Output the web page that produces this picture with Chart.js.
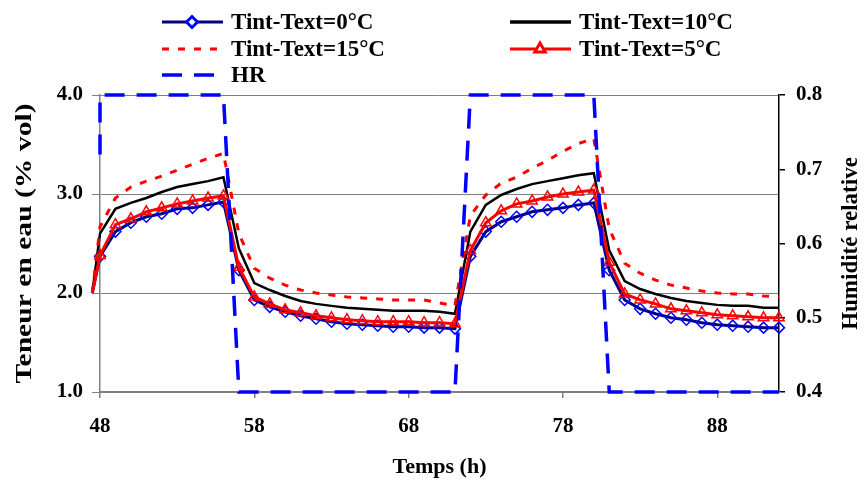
<!DOCTYPE html>
<html>
<head>
<meta charset="utf-8">
<script src="https://cdn.jsdelivr.net/npm/chart.js@4.4.1/dist/chart.umd.min.js"></script>
<style>
  html, body { margin: 0; padding: 0; background: #fff; }
</style>
</head>
<body>
<canvas id="myChart" width="864" height="482"></canvas>
<script>
// temps (h) - the first point sits just left of the 48 h axis
var temps = [47.5, 48, 49, 50, 51, 52, 53, 54, 55, 56, 57, 58, 59, 60, 61, 62, 63, 64, 65, 66, 67, 68, 69, 70,
             71, 72, 73, 74, 75, 76, 77, 78, 79, 80, 81, 82, 83, 84, 85, 86, 87, 88, 89, 90, 91, 92];

// teneur en eau (% vol) pour chaque ecart Tint-Text
var dt0  = [2.00, 2.37, 2.62, 2.71, 2.77, 2.80, 2.85, 2.86, 2.89, 2.92, 2.23, 1.93, 1.86, 1.81, 1.77, 1.74, 1.71, 1.69, 1.68, 1.67, 1.66, 1.66, 1.65, 1.65,
            1.64, 2.37, 2.62, 2.72, 2.77, 2.82, 2.84, 2.86, 2.89, 2.91, 2.23, 1.93, 1.84, 1.79, 1.75, 1.73, 1.70, 1.68, 1.67, 1.66, 1.65, 1.65];
var dt10 = [2.00, 2.60, 2.85, 2.91, 2.96, 3.02, 3.07, 3.10, 3.13, 3.17, 2.45, 2.10, 2.03, 1.97, 1.92, 1.89, 1.87, 1.85, 1.84, 1.83, 1.82, 1.82, 1.82, 1.81,
            1.79, 2.62, 2.89, 2.99, 3.05, 3.10, 3.13, 3.16, 3.19, 3.21, 2.43, 2.12, 2.04, 1.99, 1.95, 1.92, 1.90, 1.88, 1.87, 1.87, 1.85, 1.85];
var dt15 = [2.00, 2.67, 2.96, 3.07, 3.13, 3.18, 3.24, 3.30, 3.36, 3.41, 2.60, 2.25, 2.15, 2.08, 2.03, 2.00, 1.98, 1.96, 1.95, 1.94, 1.93, 1.93, 1.93, 1.90,
            1.87, 2.78, 2.99, 3.11, 3.17, 3.26, 3.34, 3.43, 3.51, 3.56, 2.65, 2.30, 2.20, 2.13, 2.08, 2.05, 2.02, 2.00, 1.99, 1.99, 1.97, 1.96];
var dt5  = [2.00, 2.38, 2.69, 2.75, 2.82, 2.86, 2.90, 2.93, 2.96, 2.98, 2.26, 1.96, 1.89, 1.83, 1.80, 1.77, 1.75, 1.73, 1.72, 1.71, 1.71, 1.71, 1.70, 1.70,
            1.69, 2.43, 2.71, 2.83, 2.90, 2.93, 2.97, 3.00, 3.02, 3.04, 2.31, 1.99, 1.93, 1.89, 1.84, 1.82, 1.80, 1.78, 1.77, 1.76, 1.75, 1.75];

// humidite relative (axe de droite)
var hrTemps = [48, 48, 56, 57, 71, 72, 80, 81, 92];
var hrValeurs = [0.72, 0.8, 0.8, 0.4, 0.4, 0.8, 0.8, 0.4, 0.4];

var xTicks = [48, 58, 68, 78, 88];
var yTicks = [1.0, 2.0, 3.0, 4.0];
var y1Ticks = [0.4, 0.5, 0.6, 0.7, 0.8];

function serie(tt, vals) {
  return tt.map(function(t, i) { return {x: t, y: vals[i]}; });
}
// no marker on the starting point left of the axis
function marqueur(r) {
  return function(c) { return c.dataIndex === 0 ? 0 : r; };
}

var police = '"Liberation Serif", "Times New Roman", serif';
Chart.defaults.font.family = police;
Chart.defaults.font.weight = 'bold';
Chart.defaults.color = '#000';

// legend on two columns like the original
var legendeGrille = {
  id: 'legendeGrille',
  afterDraw: function(chart) {
    var ctx = chart.ctx;
    var cases = [[162, 22], [510, 22], [162, 49], [510, 49], [162, 75]];
    chart.data.datasets.forEach(function(ds, i) {
      var x = cases[i][0], y = cases[i][1];
      ctx.save();
      ctx.strokeStyle = ds.borderColor;
      ctx.lineWidth = ds.legendWidth || ds.borderWidth;
      ctx.setLineDash(ds.borderDash || []);
      ctx.beginPath();
      ctx.moveTo(x, y);
      ctx.lineTo(x + 61, y);
      ctx.stroke();
      ctx.setLineDash([]);
      if (ds.legendRadius) {
        ctx.strokeStyle = ds.pointBorderColor;
        ctx.fillStyle = '#fff';
        Chart.helpers.drawPoint(ctx, {pointStyle: ds.pointStyle, radius: ds.legendRadius, borderWidth: ds.pointBorderWidth, rotation: 0}, x + 30, y);
      }
      ctx.fillStyle = '#000';
      ctx.font = 'bold 23px ' + police;
      ctx.textBaseline = 'middle';
      ctx.textAlign = 'left';
      ctx.fillText(ds.label, x + 69, y + 1);
      ctx.restore();
    });
  }
};

// both vertical axis titles, read from bottom to top
// the left one is stretched along its baseline like the original
function titreVertical(ctx, texte, x, y, longueur) {
  ctx.save();
  ctx.translate(x, y);
  ctx.rotate(-Math.PI / 2);
  ctx.font = 'bold 23px ' + police;
  if (longueur) {
    ctx.scale(longueur / ctx.measureText(texte).width, 1);
  }
  ctx.fillStyle = '#000';
  ctx.textAlign = 'center';
  ctx.textBaseline = 'middle';
  ctx.fillText(texte, 0, 0);
  ctx.restore();
}
var titresAxes = {
  id: 'titresAxes',
  afterDraw: function(chart) {
    var a = chart.chartArea, milieu = (a.top + a.bottom) / 2;
    titreVertical(chart.ctx, 'Teneur en eau (% vol)', 25, milieu, 280);
    titreVertical(chart.ctx, 'Humidité relative', 851, milieu, 0);
  }
};

var ctx = document.getElementById('myChart').getContext('2d');
var chart = new Chart(ctx, {
  type: 'line',
  data: {
    datasets: [{
      label: 'Tint-Text=0°C',
      data: serie(temps, dt0),
      borderColor: '#000080',
      borderWidth: 3,
      pointStyle: 'rectRot',
      pointRadius: marqueur(5.5),
      legendRadius: 5.5,
      pointBorderColor: '#0000FF',
      pointBackgroundColor: 'rgba(255,255,255,0)',
      pointBorderWidth: 1.5,
      yAxisID: 'y',
      order: 4
    }, {
      label: 'Tint-Text=10°C',
      data: serie(temps, dt10),
      borderColor: '#000000',
      borderWidth: 2.5,
      legendWidth: 3.5,
      pointRadius: 0,
      yAxisID: 'y',
      order: 3
    }, {
      label: 'Tint-Text=15°C',
      data: serie(temps, dt15),
      borderColor: '#FF0000',
      borderWidth: 3,
      borderDash: [7, 9],
      pointRadius: 0,
      yAxisID: 'y',
      order: 2
    }, {
      label: 'Tint-Text=5°C',
      data: serie(temps, dt5),
      borderColor: '#FF0000',
      borderWidth: 3,
      pointStyle: 'triangle',
      pointRadius: marqueur(6),
      legendRadius: 6,
      pointBorderColor: '#FF0000',
      pointBackgroundColor: 'rgba(255,255,255,0)',
      pointBorderWidth: 1.5,
      yAxisID: 'y',
      order: 1
    }, {
      label: 'HR',
      data: serie(hrTemps, hrValeurs),
      borderColor: '#0000FF',
      borderWidth: 3.5,
      borderDash: [20, 12],
      pointRadius: 0,
      yAxisID: 'y1',
      order: 0
    }]
  },
  options: {
    responsive: false,
    animation: false,
    events: [],
    layout: { padding: { top: 95, left: 0, right: 0, bottom: 0 } },
    datasets: { line: { tension: 0, clip: false } },
    plugins: {
      legend: { display: false },
      tooltip: { enabled: false }
    },
    scales: {
      x: {
        type: 'linear',
        min: 48,
        max: 92,
        afterBuildTicks: function(s) { s.ticks = xTicks.map(function(v) { return {value: v}; }); },
        afterFit: function(s) { s.height = 90; },
        grid: { drawOnChartArea: false, color: '#808080', tickLength: 6, lineWidth: 1.5 },
        border: { color: '#808080', width: 1.5 },
        ticks: { font: { size: 21, weight: 'bold' }, padding: 16, maxRotation: 0 },
        title: { display: true, text: 'Temps (h)', font: { size: 22, weight: 'bold' }, padding: { top: 0, bottom: 1 } }
      },
      y: {
        position: 'left',
        min: 1,
        max: 4,
        afterBuildTicks: function(s) { s.ticks = yTicks.map(function(v) { return {value: v}; }); },
        afterFit: function(s) { s.width = 100; },
        grid: { color: '#808080', tickLength: 8, lineWidth: 1 },
        border: { color: '#808080', width: 1.5 },
        ticks: { font: { size: 21, weight: 'bold' }, padding: 9, callback: function(v) { return v.toFixed(1); } }
      },
      y1: {
        position: 'right',
        min: 0.4,
        max: 0.8,
        afterBuildTicks: function(s) { s.ticks = y1Ticks.map(function(v) { return {value: v}; }); },
        afterFit: function(s) { s.width = 85; },
        grid: { drawOnChartArea: false, color: '#000', tickLength: 6, lineWidth: 1.5 },
        border: { color: '#000', width: 1.5 },
        ticks: { font: { size: 21, weight: 'bold' }, padding: 11, callback: function(v) { return v.toFixed(1); } }
      }
    }
  },
  plugins: [legendeGrille, titresAxes]
});
</script>
</body>
</html>
